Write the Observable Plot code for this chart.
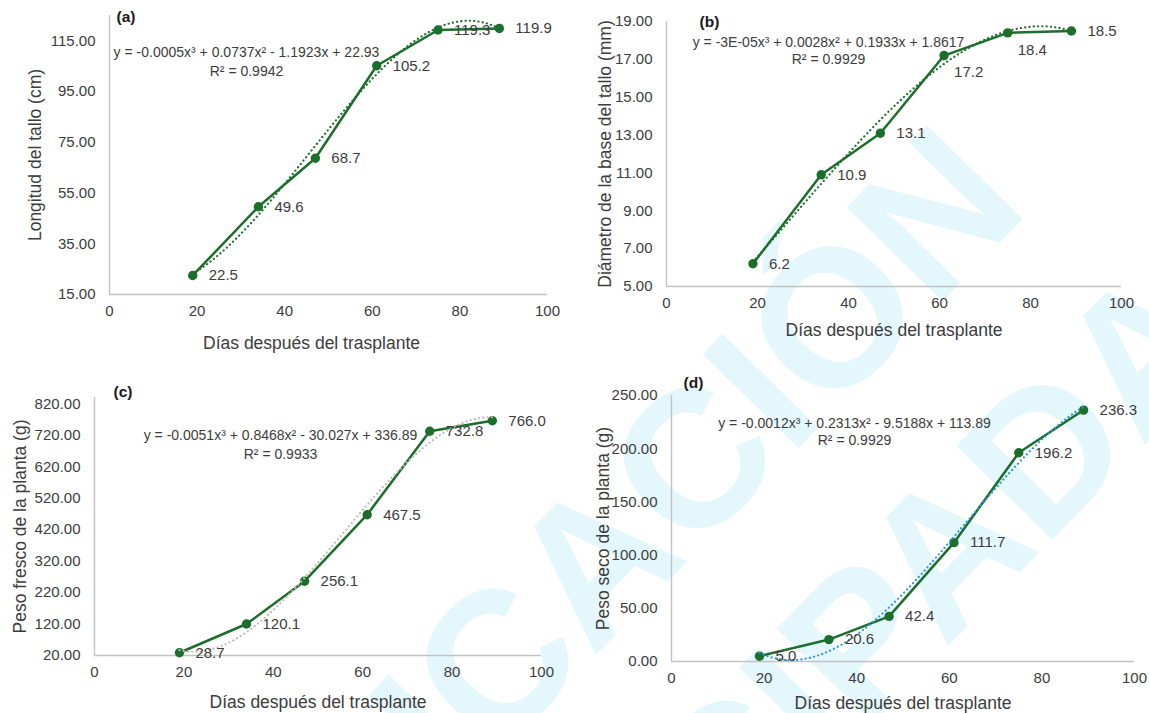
<!DOCTYPE html>
<html>
<head>
<meta charset="utf-8">
<script src="https://cdn.jsdelivr.net/npm/d3@7"></script>
<script src="https://cdn.jsdelivr.net/npm/@observablehq/plot@0.6"></script>
<style>
  html, body { margin: 0; padding: 0; background: #ffffff; }
  #root { position: relative; width: 1149px; height: 713px; overflow: hidden; background: #ffffff; }
  .panel { position: absolute; }
  #wm { position: absolute; left: 0; top: 0; }
</style>
</head>
<body>
<div id="root"></div>
<script>
// ---------------- data ----------------
const days = [19, 34, 47, 61, 75, 89];
const longitudTallo = [22.5, 49.6, 68.7, 105.2, 119.3, 119.9];
const diametroBase = [6.2, 10.9, 13.1, 17.2, 18.4, 18.5];
const pesoFresco = [28.7, 120.1, 256.1, 467.5, 732.8, 766.0];
const pesoSeco = [5.0, 20.6, 42.4, 111.7, 196.2, 236.3];

const xTicks = [0, 20, 40, 60, 80, 100];
const yTicksA = [15, 35, 55, 75, 95, 115];
const yTicksB = [5, 7, 9, 11, 13, 15, 17, 19];
const yTicksC = [20, 120, 220, 320, 420, 520, 620, 720, 820];
const yTicksD = [0, 50, 100, 150, 200, 250];

const xTitle = "Días después del trasplante";
const yTitles = ["Longitud del tallo (cm)", "Diámetro de la base del tallo (mm)", "Peso fresco de la planta (g)", "Peso seco de la planta (g)"];
const panelTags = ["(a)", "(b)", "(c)", "(d)"];
const equations = [
  "y = -0.0005x³ + 0.0737x² - 1.1923x + 22.93",
  "y = -3E-05x³ + 0.0028x² + 0.1933x + 1.8617",
  "y = -0.0051x³ + 0.8468x² - 30.027x + 336.89",
  "y = -0.0012x³ + 0.2313x² - 9.5188x + 113.89"
];
const r2Texts = ["R² = 0.9942", "R² = 0.9929", "R² = 0.9933", "R² = 0.9929"];
const watermarkLines = ["PUBLICACIÓN", "ANTICIPADA"];

// ---------------- helpers ----------------
// least-squares cubic polynomial regression (Excel "polynomial, order 3" trendline)
function cubicFit(xs, ys) {
  const n = 4;
  const A = Array.from({length: n}, () => new Array(n + 1).fill(0));
  for (let k = 0; k < xs.length; k++) {
    for (let i = 0; i < n; i++) {
      for (let j = 0; j < n; j++) A[i][j] += Math.pow(xs[k], i + j);
      A[i][n] += ys[k] * Math.pow(xs[k], i);
    }
  }
  for (let c = 0; c < n; c++) {
    let p = c;
    for (let r = c + 1; r < n; r++) if (Math.abs(A[r][c]) > Math.abs(A[p][c])) p = r;
    [A[c], A[p]] = [A[p], A[c]];
    for (let r = 0; r < n; r++) {
      if (r === c) continue;
      const f = A[r][c] / A[c][c];
      for (let k = c; k <= n; k++) A[r][k] -= f * A[c][k];
    }
  }
  const coef = A.map((row, i) => row[n] / row[i]);
  return x => coef[0] + coef[1] * x + coef[2] * x * x + coef[3] * x * x * x;
}

const FONT = "'Liberation Sans', Arial, sans-serif";
const GREEN = "#1c6e2b";
const TXT = "#3c3c3c";
const AXIS = "#c2c2c2";

const panels = [
  {values: longitudTallo, yTicks: yTicksA, yDomain: [15, 125], left: 0, top: 0, width: 575, height: 360,
   m: {l: 109, r: 28, t: 15, b: 66}, trend: GREEN, yTitleX: 35, xTitleDx: -17, xTitleDy: 49,
   tag: [7, 2], eq: [137, 37], r2: [137, 56], below: []},
  {values: diametroBase, yTicks: yTicksB, yDomain: [5, 19], left: 575, top: 0, width: 574, height: 360,
   m: {l: 91, r: 28, t: 21, b: 74}, trend: GREEN, yTitleX: 30, xTitleDx: 0, xTitleDy: 44,
   tag: [33, 1], eq: [162, 21], r2: [162, 38], below: [3, 4]},
  {values: pesoFresco, yTicks: yTicksC, yDomain: [20, 840], left: 0, top: 360, width: 575, height: 353,
   m: {l: 94, r: 34, t: 37, b: 58}, trend: "#bdbdbd", yTitleX: 20, xTitleDx: 0, xTitleDy: 47,
   tag: [19, -5], eq: [186, 38], r2: [186, 57], below: []},
  {values: pesoSeco, yTicks: yTicksD, yDomain: [0, 250], left: 575, top: 360, width: 574, height: 353,
   m: {l: 96, r: 15, t: 35, b: 52}, trend: "#2f98d6", yTitleX: 28, xTitleDx: 0, xTitleDy: 42,
   tag: [12, -12], eq: [183, 28], r2: [183, 45], below: []}
];

const root = document.getElementById("root");

// ---------------- watermark (behind charts) ----------------
{
  const svg = d3.select(root).append("svg").attr("id", "wm").attr("width", 1149).attr("height", 713);
  const g = svg.append("g").attr("transform", "translate(493,660) rotate(-45.6)");
  g.append("text").attr("x", 699).attr("y", 70).attr("text-anchor", "end")
    .attr("font-family", FONT).attr("font-weight", "bold").attr("font-size", 195)
    .attr("fill", "#e3f7fd").text(watermarkLines[0]);
  g.append("text").attr("x", 746).attr("y", 315).attr("text-anchor", "end")
    .attr("font-family", FONT).attr("font-weight", "bold").attr("font-size", 195)
    .attr("fill", "#e3f7fd").text(watermarkLines[1]);
}

// ---------------- panels ----------------
panels.forEach((p, i) => {
  const rows = days.map((d, k) => ({day: d, v: p.values[k], idx: k}));
  const f = cubicFit(days, p.values);
  const trend = d3.range(days[0], days[days.length - 1] + 0.001, 0.5).map(x => ({day: x, v: f(x)}));
  const rightRows = rows.filter(r => !p.below.includes(r.idx));
  const belowRows = rows.filter(r => p.below.includes(r.idx));

  const chart = Plot.plot({
    width: p.width,
    height: p.height,
    marginLeft: p.m.l, marginRight: p.m.r, marginTop: p.m.t, marginBottom: p.m.b,
    x: {domain: [0, 100]},
    y: {domain: p.yDomain},
    style: {fontFamily: FONT, background: "transparent", overflow: "visible", color: TXT},
    marks: [
      Plot.ruleX([0], {stroke: AXIS, strokeWidth: 1.4}),
      Plot.ruleY([p.yDomain[0]], {stroke: AXIS, strokeWidth: 1.4}),
      Plot.axisX({ticks: xTicks, tickSize: 0, tickPadding: 11, fontSize: 15, label: null}),
      Plot.axisY({ticks: p.yTicks, tickSize: 0, tickPadding: 14, fontSize: 15, label: null,
                  tickFormat: d => d.toFixed(2)}),
      Plot.line(rows, {x: "day", y: "v", stroke: GREEN, strokeWidth: 2.5}),
      Plot.dot(rows, {x: "day", y: "v", r: 4.7, fill: GREEN, stroke: "none"}),
      Plot.line(trend, {x: "day", y: "v", stroke: p.trend, strokeWidth: 2.2,
                        strokeDasharray: "0.1 4.2", strokeLinecap: "round"}),
      Plot.text(rightRows, {x: "day", y: "v", text: d => d.v.toFixed(1), dx: 16, textAnchor: "start",
                            lineAnchor: "middle", fontSize: 15, fill: TXT}),
      Plot.text(belowRows, {x: "day", y: "v", text: d => d.v.toFixed(1), dx: 10, dy: 17, textAnchor: "start",
                            lineAnchor: "middle", fontSize: 15, fill: TXT}),
      Plot.text([yTitles[i]], {text: d => d, frameAnchor: "left", dx: -(p.m.l - p.yTitleX), rotate: -90,
                               textAnchor: "middle", lineAnchor: "middle", fontSize: 17.5, fill: TXT}),
      Plot.text([xTitle], {text: d => d, frameAnchor: "bottom", dx: p.xTitleDx, dy: p.xTitleDy,
                           textAnchor: "middle", lineAnchor: "middle", fontSize: 17.5, fill: TXT}),
      Plot.text([panelTags[i]], {text: d => d, frameAnchor: "top-left", dx: p.tag[0], dy: p.tag[1],
                                 textAnchor: "start", lineAnchor: "middle", fontSize: 15.5, fontWeight: "bold", fill: "#1a1a1a"}),
      Plot.text([equations[i]], {text: d => d, frameAnchor: "top-left", dx: p.eq[0], dy: p.eq[1],
                                 textAnchor: "middle", lineAnchor: "middle", fontSize: 14, fill: TXT}),
      Plot.text([r2Texts[i]], {text: d => d, frameAnchor: "top-left", dx: p.r2[0], dy: p.r2[1],
                               textAnchor: "middle", lineAnchor: "middle", fontSize: 14, fill: TXT})
    ]
  });
  chart.classList.add("panel");
  chart.style.left = p.left + "px";
  chart.style.top = p.top + "px";
  root.appendChild(chart);
});
</script>
</body>
</html>
